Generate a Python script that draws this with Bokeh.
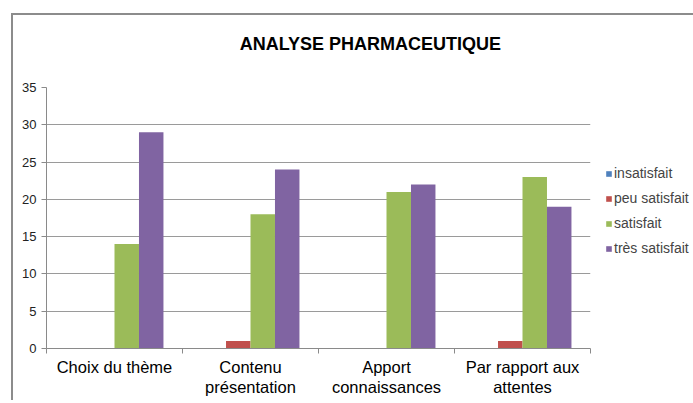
from bokeh.plotting import figure
from bokeh.models import ColumnDataSource, FixedTicker, Legend, LegendItem, Label, Range1d
from bokeh.layouts import row, column
from bokeh.transform import dodge
from bokeh.embed import file_html
from bokeh.resources import INLINE

title_text = "ANALYSE PHARMACEUTIQUE"
categories = ["Choix du thème", "Contenu\nprésentation", "Apport\nconnaissances", "Par rapport aux\nattentes"]
series_names = ["insatisfait", "peu satisfait", "satisfait", "très satisfait"]
insatisfait = [0, 0, 0, 0]
peu_satisfait = [0, 1, 0, 1]
satisfait = [14, 18, 21, 23]
tres_satisfait = [29, 24, 22, 19]
y_ticks = [0, 5, 10, 15, 20, 25, 30, 35]
colors = ["#4F81BD", "#C0504D", "#9BBB59", "#8064A2"]

centers = [i + 0.5 for i in range(len(categories))]
source = ColumnDataSource(dict(x=centers, s0=insatisfait, s1=peu_satisfait,
                               s2=satisfait, s3=tres_satisfait))
cols = ["s0", "s1", "s2", "s3"]

FONT = "Liberation Sans"
AXIS = "#8a8a8a"

# ---------- title strip ----------
TW, TH = 582, 50
pt = figure(width=TW, height=TH, output_backend="svg", toolbar_location=None,
            x_range=Range1d(0, TW), y_range=Range1d(0, TH),
            x_axis_type=None, y_axis_type=None, min_border=0)
pt.outline_line_color = None
pt.grid.visible = False
pt.add_layout(Label(x=346.5, y=22, text=title_text, text_align="center",
                    text_baseline="middle", text_font=FONT, text_font_size="18px",
                    text_font_style="bold", text_color="#000000"))

# ---------- main chart ----------
p = figure(width=582, height=335, output_backend="svg", toolbar_location=None,
           x_range=Range1d(0, len(categories)), y_range=Range1d(0, 35),
           min_border_left=33, min_border_right=5, min_border_top=22,
           min_border_bottom=52)
p.outline_line_color = None

offsets = [-0.27, -0.09, 0.09, 0.27]
for k, (col, off) in enumerate(zip(cols, offsets)):
    p.vbar(x=dodge("x", off), top=col, width=0.18, source=source,
           fill_color=colors[k], line_color=None)

p.xaxis.ticker = FixedTicker(ticks=centers, minor_ticks=list(range(len(categories) + 1)))
p.xaxis.major_label_overrides = {c: lab for c, lab in zip(centers, categories)}
p.xaxis.major_tick_line_color = None
p.xaxis.major_tick_in = 0
p.xaxis.major_tick_out = 0
p.xaxis.minor_tick_in = 0
p.xaxis.minor_tick_out = 5
p.xaxis.minor_tick_line_color = AXIS
p.xaxis.axis_line_color = AXIS
p.xaxis.major_label_text_font = FONT
p.xaxis.major_label_text_font_size = "16.5px"
p.xaxis.major_label_text_line_height = 1.15
p.xaxis.major_label_text_color = "#000000"
p.xaxis.major_label_standoff = 4
p.xgrid.grid_line_color = None

p.yaxis.ticker = FixedTicker(ticks=y_ticks)
p.yaxis.minor_tick_line_color = None
p.yaxis.major_tick_in = 0
p.yaxis.major_tick_out = 5
p.yaxis.major_tick_line_color = AXIS
p.yaxis.axis_line_color = AXIS
p.yaxis.major_label_text_font = FONT
p.yaxis.major_label_text_font_size = "13px"
p.yaxis.major_label_text_color = "#222222"
p.yaxis.major_label_standoff = 5
p.ygrid.grid_line_color = "#9a9a9a"

# ---------- legend strip ----------
LW, LH = 98, 385
pl = figure(width=LW, height=LH, output_backend="svg", toolbar_location=None,
            x_range=Range1d(0, 1), y_range=Range1d(0, 1),
            x_axis_type=None, y_axis_type=None, min_border=0)
pl.outline_line_color = None
pl.grid.visible = False
leg_renderers = [pl.vbar(x="x", top=col, width=0.18, source=source,
                         fill_color=c, line_color=None, visible=False)
                 for col, c in zip(cols, colors)]
legend = Legend(items=[LegendItem(label=n, renderers=[r]) for n, r in zip(series_names, leg_renderers)],
                location=(10, 144), orientation="vertical",
                background_fill_alpha=0, border_line_color=None,
                glyph_width=7, glyph_height=7, label_standoff=2, spacing=9,
                label_text_font=FONT, label_text_font_size="14px", label_height=15,
                padding=0, margin=0)
pl.add_layout(legend, "center")

layout = row(column(pt, p), pl, margin=(13, 0, 0, 11),
             styles={"border-left": "2px solid #8c8c8c", "border-top": "2px solid #8c8c8c"})

open("out.html", "w").write(file_html(layout, INLINE))
